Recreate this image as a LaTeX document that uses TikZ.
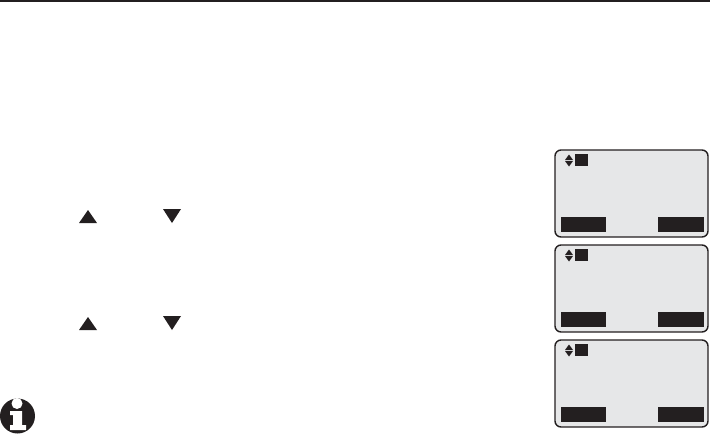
\documentclass[tikz,border=0pt]{standalone}
\usepackage{xcolor}
\usetikzlibrary{positioning}
\definecolor{inkblack}{HTML}{231F20}
\definecolor{lcdgrey}{HTML}{E6E7E8}
\begin{document}
\begin{tikzpicture}[x=0.02cm,y=-0.02cm]
\tikzset{screen/.style={draw=inkblack,fill=lcdgrey,line width=0.028cm,rounded corners=0.12cm}}
\tikzset{blackfill/.style={fill=inkblack,draw=none}}
\useasboundingbox (0,0) rectangle (710,433);
\draw[inkblack,line width=0.03cm] (0,0.8) -- (710,0.8);

\foreach \y in {150,245,340} {
\draw[screen] (555,\y) rectangle (708,\y+87);
\fill[blackfill] (575,\y+4) rectangle (588,\y+16);
\fill[blackfill] (565,\y+10) -- (569,\y+4.5) -- (573,\y+10) -- cycle;
\fill[blackfill] (565,\y+11) -- (569,\y+16.5) -- (573,\y+11) -- cycle;
\fill[blackfill] (561,\y+67) rectangle (606,\y+82);
\fill[blackfill] (658,\y+67) rectangle (704,\y+82);
}

\foreach \y in {223,330} {
\fill[blackfill] (79,\y) -- (88,\y-13) -- (97,\y) -- cycle;
\fill[blackfill] (163,\y-14) -- (172,\y) -- (181,\y-14) -- cycle;
}

\fill[blackfill] (17.5,416) circle (17.5);
\fill[white] (17,403.5) circle (5.5);
\fill[white] (10,411) -- (22,411) -- (22,425) -- (26,425) -- (26,430) -- (10,430) -- (10,425) -- (13,425) -- (13,415) -- (10,415) -- cycle;
\end{tikzpicture}
\end{document}
